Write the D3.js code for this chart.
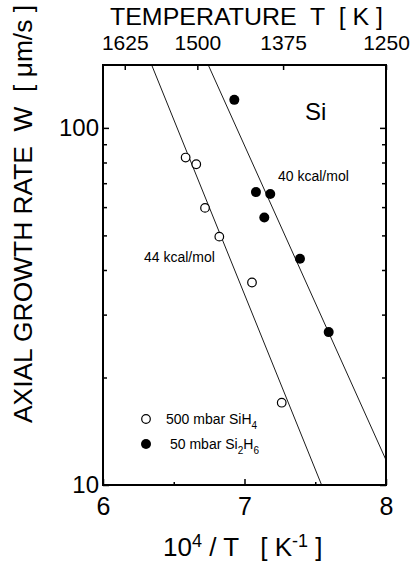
<!DOCTYPE html>
<html>
<head>
<meta charset="utf-8">
<script src="https://cdn.jsdelivr.net/npm/d3@7"></script>
<style>
  body { margin: 0; background: #fff; }
  text { font-family: Arial, "Liberation Sans", sans-serif; fill: #000; }
</style>
</head>
<body>
<div id="chart"></div>
<script>
// data
const silaneX = [6.584, 6.659, 6.721, 6.822, 7.053, 7.263];
const silaneW = [82.6, 79.1, 59.7, 49.6, 36.9, 17.0];
const disilaneX = [6.928, 7.081, 7.182, 7.140, 7.392, 7.595];
const disilaneW = [119.8, 66.1, 65.3, 56.1, 43.0, 26.8];
// fit lines, two end points each
const fit44X = [6.344, 7.545];
const fit44W = [150, 10];
const fit40X = [6.744, 8.0];
const fit40W = [150, 11.75];

const xTicks = [6, 7, 8];
const xMinorTicks = [6.5, 7.5];
const tempTicks = [1625, 1500, 1375, 1250];
const yTicks = [10, 100];
const yMinorTicks = [20, 30, 40, 50, 60, 70, 80, 90];

const W = 412, H = 565;
const margin = {top: 65, right: 26, bottom: 80, left: 103};
const width = W - margin.left - margin.right;
const height = H - margin.top - margin.bottom;

const svg = d3.select("#chart").append("svg")
    .attr("width", W)
    .attr("height", H);

const g = svg.append("g")
    .attr("transform", `translate(${margin.left},${margin.top})`);

const x = d3.scaleLinear().domain([6, 8]).range([0, width]);
const y = d3.scaleLog().domain([10, 150]).range([height, 0]);

// axes, ticks inward
function styleAxis(sel, size) {
    sel.select(".domain").remove();
    sel.selectAll("line").attr("stroke", "#000").attr("stroke-width", 1.5);
    sel.selectAll("text").style("font-size", size + "px");
}

// bottom
g.append("g").attr("transform", `translate(0,${height})`)
    .call(d3.axisBottom(x).tickValues(xTicks).tickFormat(d3.format("d"))
        .tickSizeInner(-6).tickSizeOuter(0).tickPadding(12))
    .call(s => styleAxis(s, 25));
g.append("g").attr("transform", `translate(0,${height})`)
    .call(d3.axisBottom(x).tickValues(xMinorTicks).tickSizeInner(-3).tickSizeOuter(0).tickFormat(""))
    .call(s => styleAxis(s, 25));

// top (temperature)
g.append("g")
    .call(d3.axisTop(x).tickValues(tempTicks.map(t => 1e4 / t))
        .tickFormat((d, i) => tempTicks[i]).tickSizeInner(-5).tickSizeOuter(0).tickPadding(15))
    .call(s => styleAxis(s, 21));

// left
g.append("g")
    .call(d3.axisLeft(y).tickValues(yTicks).tickFormat(d3.format("d"))
        .tickSizeInner(-6).tickSizeOuter(0).tickPadding(4))
    .call(s => styleAxis(s, 24));
g.append("g")
    .call(d3.axisLeft(y).tickValues(yMinorTicks).tickFormat("").tickSizeInner(-4).tickSizeOuter(0))
    .call(s => styleAxis(s, 24));

// right
g.append("g").attr("transform", `translate(${width},0)`)
    .call(d3.axisRight(y).tickValues(yTicks).tickFormat("").tickSizeInner(-6).tickSizeOuter(0))
    .call(s => styleAxis(s, 24));
g.append("g").attr("transform", `translate(${width},0)`)
    .call(d3.axisRight(y).tickValues(yMinorTicks).tickFormat("").tickSizeInner(-4).tickSizeOuter(0))
    .call(s => styleAxis(s, 24));

// frame
g.append("rect")
    .attr("width", width).attr("height", height)
    .attr("fill", "none").attr("stroke", "#000").attr("stroke-width", 2);

// fit lines, clipped to the frame
g.append("clipPath").attr("id", "clip")
    .append("rect").attr("width", width).attr("height", height);

const line = d3.line().x(d => x(d[0])).y(d => y(d[1]));
[[fit44X, fit44W], [fit40X, fit40W]].forEach(([xs, ws]) => {
    g.append("path")
        .datum(xs.map((v, i) => [v, ws[i]]))
        .attr("d", line)
        .attr("clip-path", "url(#clip)")
        .attr("fill", "none")
        .attr("stroke", "#000")
        .attr("stroke-width", 0.9);
});

// points
g.selectAll(".open")
    .data(silaneX.map((v, i) => [v, silaneW[i]]))
    .join("circle")
    .attr("cx", d => x(d[0])).attr("cy", d => y(d[1]))
    .attr("r", 4.3)
    .attr("fill", "#fff").attr("stroke", "#000").attr("stroke-width", 1.2);

g.selectAll(".filled")
    .data(disilaneX.map((v, i) => [v, disilaneW[i]]))
    .join("circle")
    .attr("cx", d => x(d[0])).attr("cy", d => y(d[1]))
    .attr("r", 5)
    .attr("fill", "#000");

// annotations
svg.append("text").attr("x", 305).attr("y", 120)
    .style("font-size", "24px").text("Si");
svg.append("text").attr("x", 278).attr("y", 181)
    .style("font-size", "14px").text("40 kcal/mol");
svg.append("text").attr("x", 144).attr("y", 262)
    .style("font-size", "14px").text("44 kcal/mol");

// legend
svg.append("circle").attr("cx", 146).attr("cy", 419).attr("r", 4.3)
    .attr("fill", "#fff").attr("stroke", "#000").attr("stroke-width", 1.2);
svg.append("circle").attr("cx", 146).attr("cy", 444).attr("r", 5)
    .attr("fill", "#000");

const leg1 = svg.append("text").attr("x", 166).attr("y", 424).style("font-size", "14px");
leg1.append("tspan").text("500 mbar SiH");
leg1.append("tspan").attr("dy", 5).style("font-size", "10px").text("4");

const leg2 = svg.append("text").attr("x", 170).attr("y", 449).style("font-size", "14px");
leg2.append("tspan").text("50 mbar Si");
leg2.append("tspan").attr("dy", 5).style("font-size", "10px").text("2");
leg2.append("tspan").attr("dy", -5).text("H");
leg2.append("tspan").attr("dy", 5).style("font-size", "10px").text("6");

// axis titles
svg.append("text").attr("x", 110).attr("y", 25)
    .attr("textLength", 273).attr("lengthAdjust", "spacingAndGlyphs")
    .style("font-size", "23px").style("white-space", "pre")
    .text("TEMPERATURE  T  [ K ]");

svg.append("text")
    .attr("transform", "translate(32,423) rotate(-90)")
    .attr("textLength", 418).attr("lengthAdjust", "spacingAndGlyphs")
    .style("font-size", "26px").style("white-space", "pre")
    .text("AXIAL GROWTH RATE  W  [ μm/s ]");

const xt = svg.append("text").attr("x", 163).attr("y", 556)
    .style("font-size", "26px").style("white-space", "pre");
xt.append("tspan").text("10");
xt.append("tspan").attr("dy", -9).style("font-size", "18px").text("4");
xt.append("tspan").attr("dy", 9).text(" / T   [ K");
xt.append("tspan").attr("dy", -9).style("font-size", "18px").text("-1");
xt.append("tspan").attr("dy", 9).text(" ]");
</script>
</body>
</html>
